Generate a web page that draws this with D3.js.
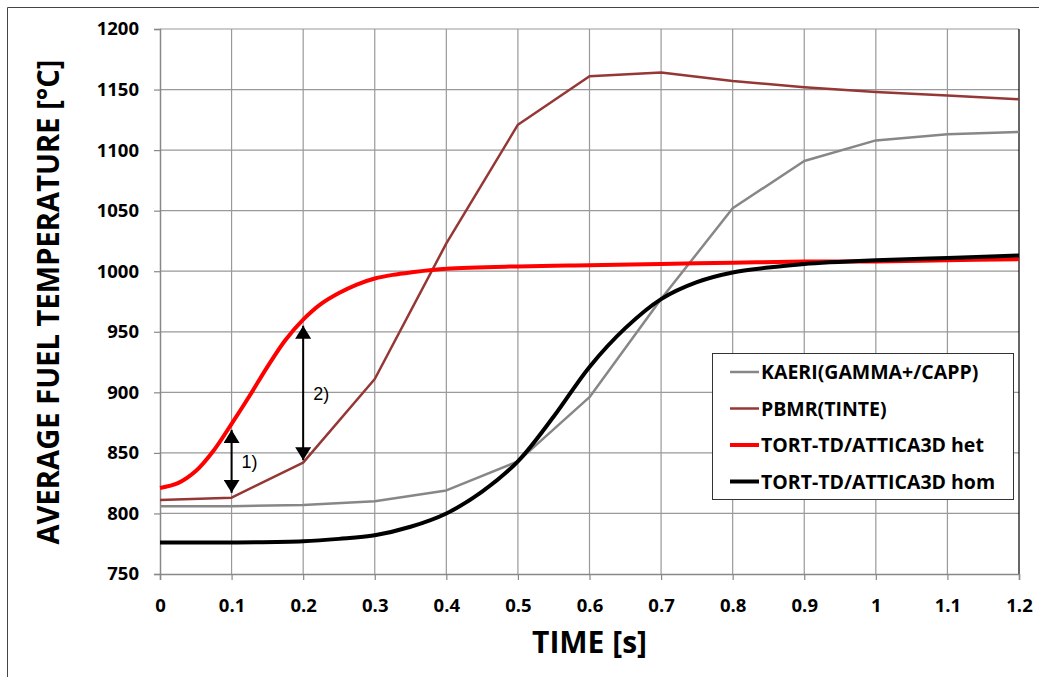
<!DOCTYPE html>
<html>
<head>
<meta charset="utf-8">
<script src="https://cdn.jsdelivr.net/npm/d3@7"></script>
<style>
  body { margin: 0; background: #fff; }
  text { font-family: "Open Sans", Lato, sans-serif; }
</style>
</head>
<body>
<div id="chart"></div>
<script>
// Data
const kaeriT = [0, 0.1, 0.2, 0.3, 0.4, 0.5, 0.6, 0.7, 0.8, 0.9, 1.0, 1.1, 1.2]
const kaeriV = [806, 806, 807, 810, 819, 843, 896, 977, 1052, 1091, 1108, 1113, 1115]

const pbmrT = [0, 0.1, 0.2, 0.3, 0.4, 0.5, 0.6, 0.7, 0.8, 0.9, 1.0, 1.1, 1.2]
const pbmrV = [811, 813, 842, 911, 1023, 1121, 1161, 1164, 1157, 1152, 1148, 1145, 1142]

const hetT = [0, 0.025, 0.05, 0.075, 0.1, 0.125, 0.15, 0.175, 0.2, 0.225, 0.25, 0.275, 0.3, 0.325, 0.35, 0.4, 0.5, 0.6, 0.7, 0.8, 0.9, 1.0, 1.1, 1.2]
const hetV = [821, 825, 835, 852, 874, 897, 921, 943, 960, 973, 982, 989, 994, 997, 999, 1002, 1004, 1005, 1006, 1007, 1008, 1008, 1009, 1010]

const homT = [0, 0.1, 0.2, 0.25, 0.3, 0.35, 0.4, 0.45, 0.5, 0.55, 0.6, 0.65, 0.7, 0.75, 0.8, 0.85, 0.9, 1.0, 1.1, 1.2]
const homV = [776, 776, 777, 779, 782, 789, 800, 818, 843, 880, 921, 953, 977, 991, 999, 1003, 1006, 1009, 1011, 1013]

const xTicks = [0, 0.1, 0.2, 0.3, 0.4, 0.5, 0.6, 0.7, 0.8, 0.9, 1, 1.1, 1.2]
const yTicks = [750, 800, 850, 900, 950, 1000, 1050, 1100, 1150, 1200]

// annotation arrows: time, top value, bottom value, label
const arrowT = [0.1, 0.2]
const arrowTop = [869, 955]
const arrowBot = [817, 844]
const arrowLabel = ["1)", "2)"]

const seriesNames = ["KAERI(GAMMA+/CAPP)", "PBMR(TINTE)", "TORT-TD/ATTICA3D het", "TORT-TD/ATTICA3D hom"]
const seriesColors = ["#878787", "#953735", "#ff0000", "#000000"]
const seriesWidths = [2.5, 2.5, 4, 4]

const width = 1039
const height = 677
const margin = {left: 160, right: 20, top: 29, bottom: 103}

const svg = d3.select("#chart").append("svg")
    .attr("width", width)
    .attr("height", height)

// outer frame
svg.append("path")
    .attr("d", "M7.5,677 L7.5,7.5 L1039,7.5")
    .attr("fill", "none")
    .attr("stroke", "#444")

const x = d3.scaleLinear().domain([0, 1.2]).range([margin.left, width - margin.right])
const y = d3.scaleLinear().domain([750, 1200]).range([height - margin.bottom, margin.top])

// grid
svg.append("g")
    .selectAll("line")
    .data(xTicks.slice(1, -1))
    .join("line")
        .attr("x1", d => x(d)).attr("x2", d => x(d))
        .attr("y1", y(750)).attr("y2", y(1200))
        .attr("stroke", "#999")
        .attr("stroke-width", 1.2)

svg.append("g")
    .selectAll("line")
    .data(yTicks.slice(1))
    .join("line")
        .attr("x1", x(0)).attr("x2", x(1.2))
        .attr("y1", d => y(d)).attr("y2", d => y(d))
        .attr("stroke", "#999")
        .attr("stroke-width", 1.2)

// right border
svg.append("line")
    .attr("x1", x(1.2)).attr("x2", x(1.2))
    .attr("y1", y(750)).attr("y2", y(1200))
    .attr("stroke", "#000")
    .attr("stroke-width", 1.2)

// axes
const xAxis = svg.append("g")
    .attr("transform", `translate(0,${y(750)})`)
    .call(d3.axisBottom(x).tickValues(xTicks).tickFormat(d => String(+d.toFixed(1))).tickSize(6))
xAxis.selectAll(".tick text").attr("y", 38).attr("dy", 0)

const yAxis = svg.append("g")
    .attr("transform", `translate(${x(0)},0)`)
    .call(d3.axisLeft(y).tickValues(yTicks).tickFormat(d3.format("d")).tickSize(6).tickPadding(15))

for (const ax of [xAxis, yAxis]) {
    ax.select(".domain").attr("stroke", "#888").attr("stroke-width", 1.5)
    ax.selectAll(".tick line").attr("stroke", "#888").attr("stroke-width", 1.2)
    ax.selectAll(".tick text")
        .attr("fill", "#000")
        .style("font-size", "18.5px")
        .style("font-weight", "bold")
}

// series
const series = [
    [kaeriT, kaeriV],
    [pbmrT, pbmrV],
    [hetT, hetV],
    [homT, homV]
]
const linear = d3.line().x(d => x(d[0])).y(d => y(d[1]))
const smooth = d3.line().x(d => x(d[0])).y(d => y(d[1])).curve(d3.curveCatmullRom)

series.forEach(([ts, vs], i) => {
    const pts = ts.map((t, j) => [t, vs[j]])
    svg.append("path")
        .datum(pts)
        .attr("fill", "none")
        .attr("stroke", seriesColors[i])
        .attr("stroke-width", seriesWidths[i])
        .attr("stroke-linejoin", "round")
        .attr("d", i < 2 ? linear : smooth)
})

// arrows
svg.append("defs").append("marker")
    .attr("id", "head")
    .attr("viewBox", "0 0 13 16")
    .attr("refX", 13).attr("refY", 8)
    .attr("markerWidth", 13).attr("markerHeight", 16)
    .attr("markerUnits", "userSpaceOnUse")
    .attr("orient", "auto-start-reverse")
    .append("path")
        .attr("d", "M0,0 L13,8 L0,16 Z")
        .attr("fill", "#000")

arrowT.forEach((t, i) => {
    svg.append("line")
        .attr("x1", x(t)).attr("x2", x(t))
        .attr("y1", y(arrowTop[i])).attr("y2", y(arrowBot[i]))
        .attr("stroke", "#000")
        .attr("stroke-width", 2)
        .attr("marker-start", "url(#head)")
        .attr("marker-end", "url(#head)")
    svg.append("text")
        .attr("x", x(t) + 10)
        .attr("y", y((arrowTop[i] + arrowBot[i]) / 2) + 7)
        .style("font-family", "'Liberation Sans', Arial, sans-serif")
        .style("font-size", "18px")
        .text(arrowLabel[i])
})

// legend
const lg = svg.append("g").attr("transform", "translate(712,353)")
lg.append("rect")
    .attr("x", 0.5).attr("y", 0.5)
    .attr("width", 301).attr("height", 146)
    .attr("fill", "#fff")
    .attr("stroke", "#333")
seriesNames.forEach((name, i) => {
    const yy = 19 + i * 36.5
    lg.append("line")
        .attr("x1", 18).attr("x2", 47)
        .attr("y1", yy).attr("y2", yy)
        .attr("stroke", seriesColors[i])
        .attr("stroke-width", seriesWidths[i])
    lg.append("text")
        .attr("x", 49).attr("y", yy + 7)
        .style("font-size", "19.5px")
        .style("font-weight", "bold")
        .text(name)
})

// axis titles
svg.append("text")
    .attr("x", (x(0) + x(1.2)) / 2)
    .attr("y", 653)
    .attr("text-anchor", "middle")
    .style("font-size", "30px")
    .style("font-weight", "bold")
    .text("TIME [s]")

svg.append("text")
    .attr("transform", `translate(59,302) rotate(-90)`)
    .attr("text-anchor", "middle")
    .style("font-size", "30px")
    .style("font-weight", "bold")
    .attr("textLength", 485)
    .attr("lengthAdjust", "spacingAndGlyphs")
    .text("AVERAGE FUEL TEMPERATURE [°C]")
</script>
</body>
</html>
